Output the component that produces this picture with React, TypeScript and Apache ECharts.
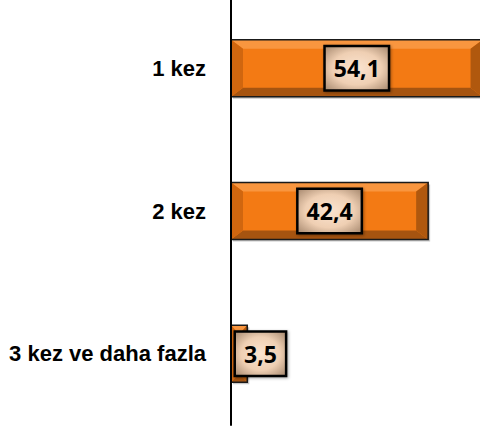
import React, { useEffect, useRef } from "react";
import * as echarts from "echarts";

const categories = ["1 kez", "2 kez", "3 kez ve daha fazla"];
const values = [54.1, 42.4, 3.5];

export default function App() {
  const ref = useRef<HTMLDivElement>(null);
  useEffect(() => {
    if (!ref.current) return;
    const chart = echarts.init(ref.current, null, { renderer: "svg" });
    const customData = values.map((v, i) => [v, i]);
    const renderItem = (params: any, api: any) => {
      const v = api.value(0);
      const c = api.value(1);
      const s = api.coord([0, c]);
      const e = api.coord([v, c]);
      const h = api.size([0, 1])[1] * 0.4;
      const x0 = s[0];
      const x1 = e[0];
      const y0 = s[1] - h / 2;
      const y1 = s[1] + h / 2;
      const b = Math.min(12, (x1 - x0) / 2);
      const bv = 9;
      return {
        type: "group",
        children: [
          {
            type: "rect",
            shape: { x: x0 + 2, y: y0 + 2, width: x1 - x0, height: h },
            style: { fill: "rgba(0,0,0,0.22)" },
          },
          {
            type: "rect",
            shape: { x: x0, y: y0, width: x1 - x0, height: h },
            style: { fill: "#F37A14" },
          },
          {
            type: "polygon",
            shape: { points: [[x0, y0], [x1, y0], [x1 - b, y0 + bv], [x0 + b, y0 + bv]] },
            style: { fill: "#F9963F" },
          },
          {
            type: "polygon",
            shape: { points: [[x0, y1], [x1, y1], [x1 - b, y1 - bv], [x0 + b, y1 - bv]] },
            style: { fill: "#A65410" },
          },
          {
            type: "polygon",
            shape: { points: [[x0, y0], [x0 + b, y0 + bv], [x0 + b, y1 - bv], [x0, y1]] },
            style: { fill: "#D0660F" },
          },
          {
            type: "polygon",
            shape: { points: [[x1, y0], [x1 - b, y0 + bv], [x1 - b, y1 - bv], [x1, y1]] },
            style: { fill: "#B0580E" },
          },
          {
            type: "rect",
            shape: { x: x0, y: y0, width: x1 - x0, height: h },
            style: { fill: "none", stroke: "#1a1a1a", lineWidth: 1.5 },
          },
        ],
      };
    };
    const labelBg = new echarts.graphic.RadialGradient(0.5, 0.5, 0.72, [
      { offset: 0, color: "#FBE4D0" },
      { offset: 0.55, color: "#EFCFB3" },
      { offset: 1, color: "#A88A70" },
    ]);
    chart.setOption({
      animation: false,
      grid: { left: 231, width: 279, top: -3, height: 428, outerBoundsMode: "none", containLabel: false },
      xAxis: { type: "value", min: 0, max: 60, show: false },
      yAxis: {
        type: "category",
        data: categories,
        inverse: true,
        axisLine: { show: true, lineStyle: { color: "#000", width: 2 } },
        axisTick: { show: false },
        splitLine: { show: false },
        axisLabel: {
          margin: 25,
          color: "#000",
          fontWeight: "bold",
          fontSize: 22,
          fontFamily: "'Liberation Sans', Arial, sans-serif",
        },
        z: 10,
      },
      series: [
        {
          type: "custom",
          renderItem,
          encode: { x: 0, y: 1 },
          data: customData,
          z: 1,
        },
        {
          type: "bar",
          data: values.map((v, i) =>
            i === values.length - 1 ? { value: v, label: { position: "insideLeft" } } : v
          ),
          barWidth: "40%",
          itemStyle: { color: "rgba(0,0,0,0)" },
          z: 5,
          label: {
            show: true,
            position: "inside",
            formatter: (p: any) => String(p.value).replace(".", ","),
            color: "#000",
            fontWeight: "bold",
            fontSize: 23,
            fontFamily: "'Open Sans', sans-serif",
            lineHeight: 26,
            padding: [8, 8],
            backgroundColor: labelBg,
            borderColor: "#000",
            borderWidth: 2.5,
            shadowColor: "rgba(0,0,0,0.35)",
            shadowBlur: 3,
            shadowOffsetX: 1,
            shadowOffsetY: 1,
          },
        },
      ],
    });
    return () => chart.dispose();
  }, []);
  return (
    <div
      ref={ref}
      style={{ position: "absolute", left: 0, top: 0, width: 480, height: 428, background: "#fff" }}
    />
  );
}
